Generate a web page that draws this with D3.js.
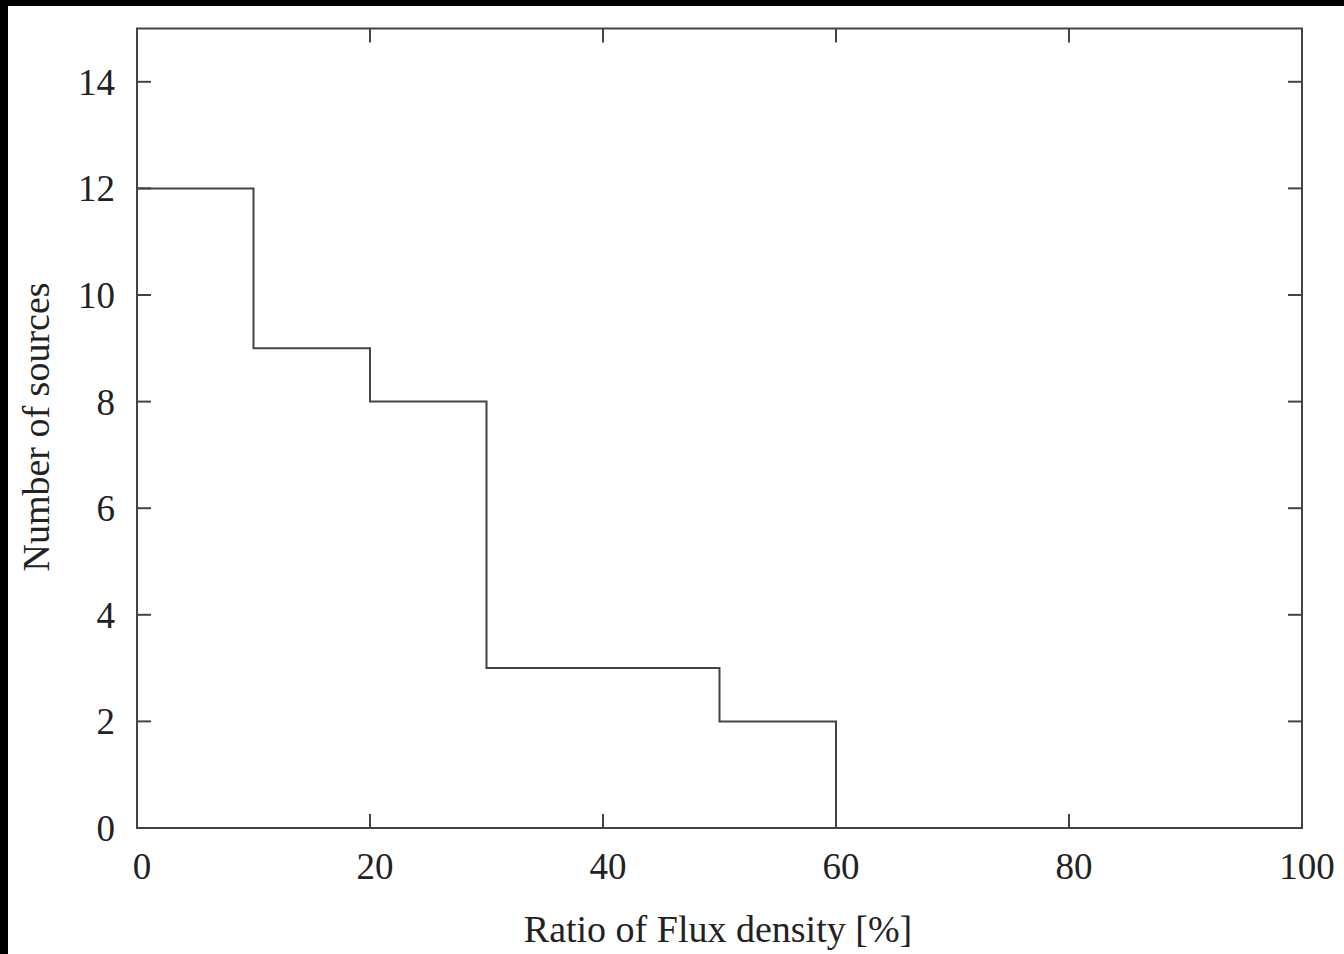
<!DOCTYPE html>
<html>
<head>
<meta charset="utf-8">
<script src="https://cdn.jsdelivr.net/npm/d3@7"></script>
<style>
  body { margin: 0; background: #fff; }
  svg { display: block; }
  text { font-family: "Liberation Serif", "Times New Roman", serif; fill: #222; }
</style>
</head>
<body>
<script>
// histogram bins (lower edges, %) and counts
var binStarts = [0, 10, 20, 30, 40, 50];
var binWidth = 10;
var counts = [12, 9, 8, 3, 3, 2];
var xTicks = [0, 20, 40, 60, 80, 100];
var yTicks = [0, 2, 4, 6, 8, 10, 12, 14];

var W = 1344, H = 954;
var plotLeft = 137, plotRight = 1302, plotTop = 28.5, plotBottom = 828;

var svg = d3.select('body').append('svg')
            .attr('width', W)
            .attr('height', H);

svg.append('rect').attr('width', W).attr('height', H).attr('fill', '#fff');
// dark edges of the scan
svg.append('rect').attr('x', 0).attr('y', 0).attr('width', W).attr('height', 6).attr('fill', '#000');
svg.append('rect').attr('x', 0).attr('y', 0).attr('width', 8).attr('height', H).attr('fill', '#000');

var x = d3.scaleLinear().domain([0, 100]).range([plotLeft, plotRight]);
var y = d3.scaleLinear().domain([0, 15]).range([plotBottom, plotTop]);

var lineColor = '#444';
var tickLen = 14;

// ticks (inward, mirrored on top/right)
var tg = svg.append('g').attr('stroke', lineColor).attr('stroke-width', 2);
xTicks.forEach(function(t){
  tg.append('line').attr('x1', x(t)).attr('x2', x(t)).attr('y1', plotBottom).attr('y2', plotBottom - tickLen);
  tg.append('line').attr('x1', x(t)).attr('x2', x(t)).attr('y1', plotTop).attr('y2', plotTop + tickLen);
});
yTicks.forEach(function(t){
  tg.append('line').attr('x1', plotLeft).attr('x2', plotLeft + tickLen).attr('y1', y(t)).attr('y2', y(t));
  tg.append('line').attr('x1', plotRight).attr('x2', plotRight - tickLen).attr('y1', y(t)).attr('y2', y(t));
});

// step outline of histogram
var pts = [];
binStarts.forEach(function(b, i){
  pts.push([b, counts[i]]);
  pts.push([b + binWidth, counts[i]]);
});
pts.push([binStarts[binStarts.length-1] + binWidth, 0]);
var line = d3.line()
             .x(function(d){ return x(d[0]); })
             .y(function(d){ return y(d[1]); });
svg.append('path').attr('d', line(pts))
   .attr('fill', 'none').attr('stroke', lineColor).attr('stroke-width', 2);

// frame
svg.append('rect').attr('x', plotLeft).attr('y', plotTop)
   .attr('width', plotRight - plotLeft).attr('height', plotBottom - plotTop)
   .attr('fill', 'none').attr('stroke', lineColor).attr('stroke-width', 2);

// tick labels
svg.append('g').selectAll('text').data(xTicks).enter().append('text')
   .attr('x', function(d){ return x(d) + 5; })
   .attr('y', 879)
   .attr('text-anchor', 'middle')
   .style('font-size', '37px')
   .text(function(d){ return d; });

svg.append('g').selectAll('text').data(yTicks).enter().append('text')
   .attr('x', 115)
   .attr('y', function(d){ return y(d); })
   .attr('dy', '0.35em')
   .attr('text-anchor', 'end')
   .style('font-size', '37px')
   .text(function(d){ return d; });

// axis titles
svg.append('text')
   .attr('x', 718).attr('y', 942)
   .attr('text-anchor', 'middle')
   .style('font-size', '38px')
   .text('Ratio of Flux density [%]');

svg.append('text')
   .attr('transform', 'translate(49,427) rotate(-90)')
   .attr('text-anchor', 'middle')
   .style('font-size', '38px')
   .text('Number of sources');
</script>
</body>
</html>
